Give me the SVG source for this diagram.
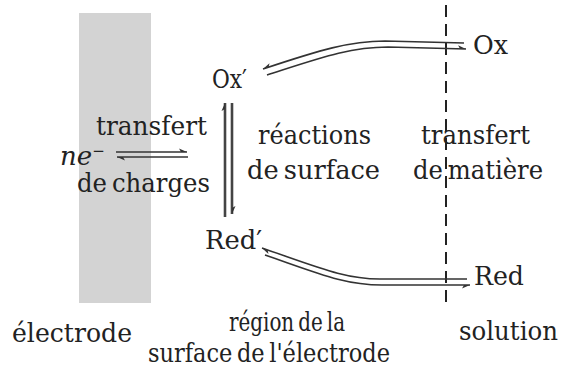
<svg xmlns="http://www.w3.org/2000/svg" width="567" height="372" viewBox="0 0 567 372">
<style>
text{font-family:'DejaVu Serif','Liberation Serif',serif;font-size:26px;fill:#222;word-spacing:-3px}
.ln{fill:none;stroke:#333;stroke-width:1.6}
.vl{fill:none;stroke:#444;stroke-width:2.6}
</style>
<defs>
<marker id="hp" viewBox="-9 -5 10 10" markerWidth="10" markerHeight="10" refX="0" refY="0" orient="auto" markerUnits="userSpaceOnUse">
<path d="M0,0 L-8,-3.5 L-6,0 Z" fill="#333"/>
</marker>
<marker id="hq" viewBox="-9 -5 10 10" markerWidth="10" markerHeight="10" refX="0" refY="0" orient="auto" markerUnits="userSpaceOnUse">
<path d="M0,0 L-8,3.5 L-6,0 Z" fill="#333"/>
</marker>
</defs>
<rect x="79" y="13" width="72" height="290" fill="#d3d3d3"/>
<line x1="446" y1="5" x2="446" y2="306" stroke="#222" stroke-width="2" stroke-dasharray="12 7"/>
<g id="connectors">
<line class="ln" x1="116" y1="152" x2="187" y2="152" marker-end="url(#hp)"/>
<line class="ln" x1="188" y1="157" x2="117" y2="157" marker-end="url(#hp)"/>
<line class="vl" x1="225" y1="217" x2="225" y2="103" marker-end="url(#hp)"/>
<line class="vl" x1="232" y1="103" x2="232" y2="214" marker-end="url(#hp)"/>
<path class="ln" d="M464,43 L385,41 C350,41 320,50 263,69" marker-end="url(#hq)"/>
<path class="ln" d="M267,75 C320,58 350,47 388,47 L466,49" marker-end="url(#hp)"/>
<path class="ln" d="M467,279 L380,279 C345,279 320,268 262,248" marker-end="url(#hp)"/>
<path class="ln" d="M265,255 C320,274 345,285 382,285 L470,285" marker-end="url(#hq)"/>
</g>
<g id="electrode">
<text x="12" y="342" textLength="120" lengthAdjust="spacingAndGlyphs">électrode</text>
</g>
<g id="transfert-charges">
<text x="96" y="135" textLength="111" lengthAdjust="spacingAndGlyphs">transfert</text>
<text x="77" y="192" textLength="133" lengthAdjust="spacingAndGlyphs">de charges</text>
</g>
<g id="ne">
<text x="60" y="165"><tspan font-style="italic">ne</tspan><tspan dy="-9" font-size="15">−</tspan></text>
</g>
<g id="oxp">
<text x="212" y="88" textLength="35" lengthAdjust="spacingAndGlyphs">Ox′</text>
</g>
<g id="redp">
<text x="205" y="249" textLength="57" lengthAdjust="spacingAndGlyphs">Red′</text>
</g>
<g id="reactions">
<text x="258" y="144" textLength="113" lengthAdjust="spacingAndGlyphs">réactions</text>
<text x="247" y="179" textLength="133" lengthAdjust="spacingAndGlyphs">de surface</text>
</g>
<g id="transfert-matiere">
<text x="421" y="144" textLength="109" lengthAdjust="spacingAndGlyphs">transfert</text>
<text x="413" y="179" textLength="130" lengthAdjust="spacingAndGlyphs">de matière</text>
</g>
<g id="ox">
<text x="473" y="54" textLength="35" lengthAdjust="spacingAndGlyphs">Ox</text>
</g>
<g id="red">
<text x="474" y="285" textLength="50" lengthAdjust="spacingAndGlyphs">Red</text>
</g>
<g id="region">
<text x="229" y="331" textLength="116" lengthAdjust="spacingAndGlyphs">région de la</text>
<text x="148" y="362" textLength="242" lengthAdjust="spacingAndGlyphs">surface de l'électrode</text>
</g>
<g id="solution">
<text x="459" y="340" textLength="99" lengthAdjust="spacingAndGlyphs">solution</text>
</g>
</svg>
